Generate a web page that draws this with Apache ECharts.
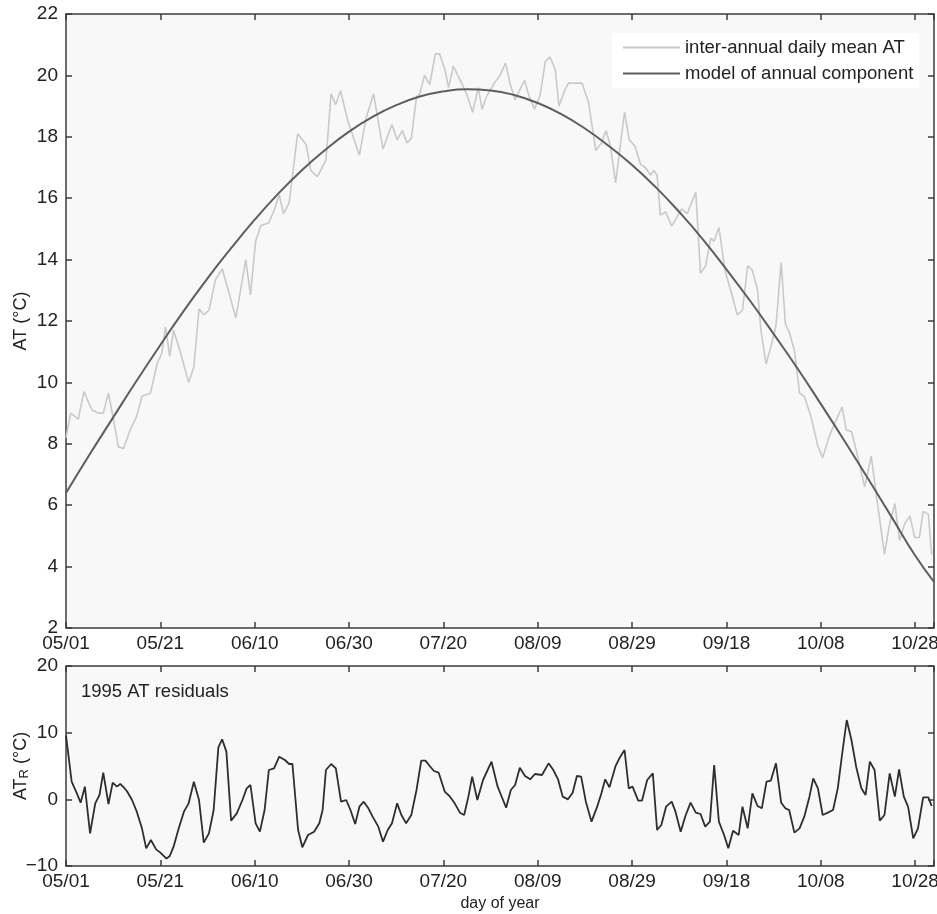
<!DOCTYPE html>
<html>
<head>
<meta charset="utf-8">
<title>AT annual component</title>
<script src="https://cdn.jsdelivr.net/npm/echarts@6/dist/echarts.min.js"></script>
<style>
  html, body { margin: 0; padding: 0; background: #fff; }
  #chart { width: 937px; height: 914px; }
</style>
</head>
<body>
<div id="chart"></div>
<script>
  // day 0 = 05/01, ticks every 20 days
  var dateLabels = ['05/01', '05/21', '06/10', '06/30', '07/20', '08/09', '08/29', '09/18', '10/08', '10/28']

  // inter-annual daily mean AT
  var atDays = [0, 1, 2.6, 3.8, 5.5, 6.9, 7.9, 9, 10, 11.1, 12.2, 13.6, 15, 16.1, 17.9, 19.3, 20.3, 21.1, 22, 22.8,
    24.3, 26, 27.1, 28.2, 29.2, 30.3, 31.7, 33.1, 34.5, 36, 38.1, 39.1, 40.2, 41.3, 43, 44.1, 45.2, 46.1, 47.3, 49.1,
    50.9, 51.9, 53.3, 55.1, 56.2, 57.2, 58.2, 59.7, 62.2, 63.6, 65.2, 67.2, 69.1, 70.2, 71.3, 72.3, 73.2, 74.3, 75, 76,
    77.1, 78.3, 79.2, 80.3, 81.1, 82.1, 83.7, 84.9, 86.2, 87.4, 88.2, 89.1, 90.8, 92, 93.2, 94.1, 95.2, 97.2, 98.2, 99.3,
    100.5, 101.6, 102.6, 103.7, 104.5, 105.7, 106.5, 108, 109.4, 110.8, 112.3, 113.5, 114.5, 115.4, 116.5, 118.4, 119.4, 120.6, 121.8, 122.8,
    123.9, 124.6, 125.3, 126, 127.1, 128.4, 129.6, 130.5, 131.7, 133.5, 134.5, 135.6, 136.7, 137.4, 138.4, 139.7, 140.9, 142.3, 143.4, 144.5,
    145.5, 146.6, 147.3, 148.4, 149.4, 150.5, 151.6, 152.5, 153.3, 154.4, 155.5, 156.5, 157.9, 159.4, 160.4, 161.8, 162.9, 164.5, 165.4, 166.5,
    167.5, 169.3, 170.7, 171.8, 173.5, 174.6, 175.7, 176.7, 177.8, 178.9, 179.9, 180.9, 181.7, 182.8, 183.5]
  var atMean = [8.2, 9.0, 8.8, 9.7, 9.1, 9.0, 9.0, 9.65, 8.85, 7.9, 7.85, 8.45, 8.9, 9.55, 9.65, 10.6, 10.95, 11.8, 10.85, 11.7,
    10.95, 10.0, 10.5, 12.4, 12.2, 12.35, 13.35, 13.7, 12.95, 12.1, 14.0, 12.85, 14.6, 15.1, 15.2, 15.6, 16.1, 15.5, 15.85, 18.1,
    17.75, 16.9, 16.7, 17.25, 19.4, 19.05, 19.5, 18.55, 17.4, 18.6, 19.4, 17.6, 18.4, 17.9, 18.2, 17.8, 17.95, 19.3, 19.4, 20.0,
    19.7, 20.7, 20.7, 20.2, 19.6, 20.3, 19.8, 19.4, 18.8, 19.6, 18.9, 19.3, 19.75, 20.0, 20.4, 19.75, 19.2, 19.85, 19.3, 18.9,
    19.35, 20.45, 20.6, 20.2, 19.0, 19.5, 19.75, 19.75, 19.75, 19.1, 17.55, 17.8, 18.2, 17.7, 16.5, 18.8, 17.9, 17.7, 17.1, 17.0,
    16.75, 16.9, 16.75, 15.45, 15.55, 15.1, 15.4, 15.65, 15.5, 16.2, 13.55, 13.8, 14.7, 14.6, 15.05, 13.65, 13.0, 12.2, 12.35, 13.8,
    13.65, 13.0, 11.7, 10.6, 11.15, 11.85, 13.9, 11.9, 11.65, 11.05, 9.65, 9.55, 8.9, 7.9, 7.55, 8.25, 8.65, 9.2, 8.45, 8.4,
    7.8, 6.6, 7.6, 6.3, 4.4, 5.4, 6.05, 4.85, 5.4, 5.65, 4.95, 4.95, 5.8, 5.7, 4.4]

  // model of annual component
  var modelDays = [0, 5, 10, 15, 20, 25, 30, 35, 40, 45, 50, 55, 60, 65, 70, 75, 80, 85, 90, 95,
    100, 105, 110, 115, 120, 125, 130, 135, 140, 145, 150, 155, 160, 165, 170, 175, 180, 184]
  var modelValues = [6.40, 7.65, 8.86, 10.06, 11.22, 12.34, 13.39, 14.37, 15.30, 16.15, 16.91, 17.58, 18.17, 18.65, 19.03, 19.31, 19.48, 19.55, 19.51, 19.36,
    19.10, 18.74, 18.27, 17.71, 17.08, 16.36, 15.55, 14.66, 13.68, 12.66, 11.58, 10.47, 9.30, 8.10, 6.87, 5.62, 4.36, 3.50]

  // 1995 AT residuals
  var resDays = [0, 1.2, 2.3, 3.1, 4, 5.1, 6.2, 7.1, 7.9, 9, 9.9, 10.8, 11.5, 12.1, 12.9, 14, 15, 16.1, 17, 18,
    19.1, 20, 21.3, 22, 22.8, 23.9, 25, 26, 27.1, 28.2, 29.2, 30.3, 31.3, 32.3, 33.1, 34, 35, 36.2, 37.4, 38.3,
    39.1, 40.2, 41.1, 42.1, 43, 44.1, 45.2, 46.4, 47.3, 48, 49.2, 50.1, 51.3, 52.6, 53.7, 54.4, 55.1, 56.2, 57.2, 58.3,
    59.4, 60.3, 61.3, 62.2, 63.1, 64.1, 65, 66.2, 67.2, 68.2, 69.1, 70.2, 71.1, 72.1, 73.2, 74.3, 75.3, 76.2, 77.1, 78,
    79, 80.3, 81.4, 82.4, 83.5, 84.4, 85.3, 86.1, 87.2, 88.4, 90.2, 91.5, 92.3, 93.3, 94.3, 95.2, 96.2, 97.3, 98.4, 99.4,
    100.9, 102.3, 103.3, 104.3, 105.3, 106.4, 107.4, 108.3, 109.2, 110.2, 111.4, 112.6, 113.5, 114.3, 115.2, 116.5, 117.5, 118.4, 119.3, 120.1,
    121.3, 122.1, 123.2, 124.4, 125.3, 126.2, 127.2, 128.4, 129.2, 130.3, 131.3, 132.4, 133.5, 134.5, 135.5, 136.5, 137.4, 138.4, 139.5, 140.4,
    141.4, 142.6, 143.4, 144.5, 145.5, 146.6, 147.5, 148.5, 149.4, 150.5, 151.6, 152.5, 153.3, 154.4, 155.5, 156.5, 157.6, 158.4, 159.4, 160.4,
    161.5, 162.6, 163.6, 164.5, 165.5, 166.5, 167.5, 168.6, 169.5, 170.4, 171.4, 172.5, 173.5, 174.6, 175.7, 176.6, 177.6, 178.5, 179.6, 180.6,
    181.7, 182.8, 183.5]
  var resValues = [9.6, 2.65, 0.9, -0.5, 1.9, -5.1, -0.6, 0.65, 4.0, -0.7, 2.5, 1.9, 2.3, 1.9, 1.25, -0.1, -1.85, -4.35, -7.35, -6.1,
    -7.5, -8.0, -8.9, -8.5, -7.1, -4.35, -1.85, -0.6, 2.65, -0.1, -6.5, -5.1, -1.6, 7.8, 9.0, 7.15, -3.2, -2.1, -0.1, 1.65,
    2.15, -3.6, -4.85, -1.6, 4.4, 4.65, 6.4, 5.9, 5.3, 5.3, -4.6, -7.2, -5.35, -4.85, -3.6, -1.6, 4.4, 5.3, 4.65, -0.35,
    -0.1, -1.6, -3.7, -1.1, -0.35, -1.35, -2.6, -4.1, -6.35, -4.6, -3.6, -0.6, -2.35, -3.6, -2.35, 1.4, 5.8, 5.8, 5.0, 4.25,
    4.0, 1.15, 0.4, -0.6, -2.0, -2.35, 0.4, 3.4, -0.1, 2.9, 5.65, 1.9, 0.5, -1.25, 1.4, 2.15, 4.75, 3.5, 3.0, 3.8,
    3.65, 5.4, 4.4, 3.0, 0.4, 0.0, 1.0, 3.5, 3.4, -0.35, -3.35, -1.1, 0.9, 3.0, 1.8, 5.0, 6.4, 7.4, 1.65, 1.9,
    -0.2, -0.2, 2.9, 3.9, -4.6, -3.85, -1.1, -0.35, -1.85, -4.85, -2.5, -0.5, -2.0, -2.2, -4.1, -3.35, 5.15, -3.35, -5.35, -7.35,
    -4.7, -5.35, -1.1, -4.35, 0.9, -1.0, -1.35, 2.65, 2.8, 5.4, -0.5, -1.35, -1.6, -5.0, -4.35, -2.6, 0.4, 3.15, 1.65, -2.35,
    -2.0, -1.6, 1.65, 6.65, 11.9, 8.9, 4.9, 1.65, 0.65, 5.65, 4.4, -3.2, -2.35, 3.9, 0.4, 4.5, 0.4, -1.1, -5.85, -4.35,
    0.3, 0.3, -1.0]

  function pairs(xs, ys) {
    return xs.map(function (x, i) { return [x, ys[i]] })
  }

  var font = 'Liberation Sans, Arial, Helvetica, sans-serif'
  var frameColor = '#3c3c3c'

  function dayLabel(v) {
    if (v % 20 !== 0) return ''
    return dateLabels[v / 20] || ''
  }

  function xAxis(gridIndex, position, showLabel, name) {
    return {
      type: 'value',
      gridIndex: gridIndex,
      position: position,
      min: 0,
      max: 184,
      interval: 20,
      name: name || '',
      nameLocation: 'middle',
      nameGap: 30,
      nameMoveOverlap: false,
      nameTextStyle: { fontFamily: font, fontSize: 16, color: '#222' },
      axisLine: { show: false, onZero: false },
      axisTick: { show: true, inside: true, length: 6, lineStyle: { color: frameColor, width: 1.5 } },
      axisLabel: {
        show: showLabel,
        margin: 6,
        fontFamily: font,
        fontSize: 19,
        color: '#222',
        formatter: dayLabel
      },
      splitLine: { show: false }
    }
  }

  function yAxis(gridIndex, position, min, max, interval, showLabel, name) {
    return {
      type: 'value',
      gridIndex: gridIndex,
      position: position,
      min: min,
      max: max,
      interval: interval,
      name: name || '',
      nameLocation: 'middle',
      nameGap: 35,
      nameMoveOverlap: false,
      nameTextStyle: {
        fontFamily: font,
        fontSize: 18,
        color: '#222',
        lineHeight: 20,
        rich: {
          main: { fontFamily: font, fontSize: 18, color: '#222', lineHeight: 20 },
          sub: { fontFamily: font, fontSize: 13, color: '#222', lineHeight: 20, verticalAlign: 'bottom' }
        }
      },
      axisLine: { show: false, onZero: false },
      axisTick: { show: true, inside: true, length: 6, lineStyle: { color: frameColor, width: 1.5 } },
      axisLabel: {
        show: showLabel,
        margin: 8,
        fontFamily: font,
        fontSize: 19,
        color: '#222',
        formatter: function (v) { return String(v).replace('-', '\u2212') }
      },
      splitLine: { show: false }
    }
  }

  var chart = echarts.init(document.getElementById('chart'))
  chart.setOption({
    animation: false,
    backgroundColor: '#fff',
    textStyle: { fontFamily: font },
    title: {
      text: '1995 AT residuals',
      left: 76,
      top: 677,
      textStyle: { fontFamily: font, fontSize: 18.5, fontWeight: 'normal', color: '#222' }
    },
    legend: {
      orient: 'vertical',
      left: 612,
      top: 33,
      padding: [5, 6, 5, 11],
      itemGap: 7,
      itemWidth: 57,
      itemHeight: 2,
      icon: 'rect',
      backgroundColor: '#fff',
      selectedMode: false,
      textStyle: { fontFamily: font, fontSize: 18.5, color: '#222', lineHeight: 18 },
      data: ['inter-annual daily mean AT', 'model of annual component']
    },
    grid: [
      { left: 66, right: 3, top: 14, height: 614, outerBoundsMode: 'none', containLabel: false, show: true, backgroundColor: '#f8f8f8', borderColor: frameColor, borderWidth: 1.5 },
      { left: 66, right: 3, top: 666, height: 200, outerBoundsMode: 'none', containLabel: false, show: true, backgroundColor: '#f8f8f8', borderColor: frameColor, borderWidth: 1.5 }
    ],
    xAxis: [
      xAxis(0, 'bottom', true),
      xAxis(0, 'top', false),
      xAxis(1, 'bottom', true, 'day of year'),
      xAxis(1, 'top', false)
    ],
    yAxis: [
      yAxis(0, 'left', 2, 22, 2, true, 'AT (\u00b0C)'),
      yAxis(0, 'right', 2, 22, 2, false),
      yAxis(1, 'left', -10, 20, 10, true, '{main|AT}{sub|R}{main| (\u00b0C)}'),
      yAxis(1, 'right', -10, 20, 10, false)
    ],
    series: [
      {
        name: 'inter-annual daily mean AT',
        type: 'line',
        xAxisIndex: 0,
        yAxisIndex: 0,
        symbol: 'none',
        data: pairs(atDays, atMean),
        lineStyle: { color: '#c9c9c9', width: 1.6 },
        itemStyle: { color: '#c9c9c9' }
      },
      {
        name: 'model of annual component',
        type: 'line',
        xAxisIndex: 0,
        yAxisIndex: 0,
        symbol: 'none',
        smooth: true,
        data: pairs(modelDays, modelValues),
        lineStyle: { color: '#5e5e5e', width: 2 },
        itemStyle: { color: '#5e5e5e' }
      },
      {
        name: 'residuals',
        type: 'line',
        xAxisIndex: 2,
        yAxisIndex: 2,
        symbol: 'none',
        data: pairs(resDays, resValues),
        lineStyle: { color: '#2e2e2e', width: 1.8 },
        itemStyle: { color: '#2e2e2e' }
      }
    ]
  })
</script>
</body>
</html>
